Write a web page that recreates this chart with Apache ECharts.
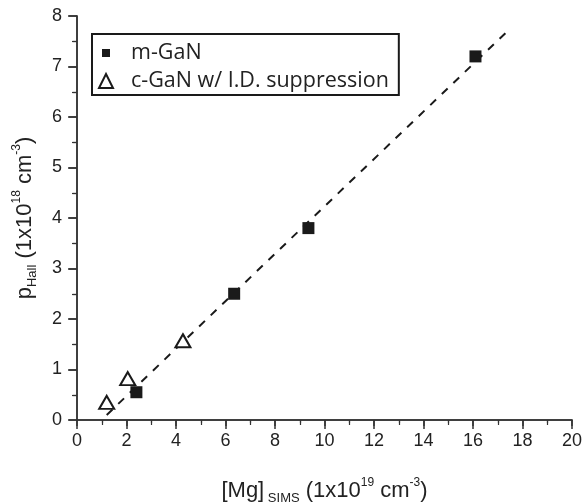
<!DOCTYPE html>
<html>
<head>
<meta charset="utf-8">
<script src="https://cdn.jsdelivr.net/npm/echarts@6/dist/echarts.min.js"></script>
<style>
  html, body { margin: 0; padding: 0; background: #fff; }
  #chart { width: 583px; height: 503px; }
</style>
</head>
<body>
<div id="chart"></div>
<script>
// m-GaN (filled squares)
var mGaNX = [2.4, 6.35, 9.35, 16.1];
var mGaNY = [0.55, 2.5, 3.8, 7.2];
// c-GaN w/ I.D. suppression (open triangles)
var cGaNX = [1.2, 2.05, 4.28];
var cGaNY = [0.35, 0.82, 1.57];
// dashed linear fit, end points
var fitX = [1.2, 17.5];
var fitY = [0.1, 7.75];

var ink = '#1a1a1a';
var axisCol = '#333';
var sans = 'Liberation Sans, Arial, sans-serif';

function pairs(xs, ys) {
  return xs.map(function (x, i) { return [x, ys[i]]; });
}

var nameRich = {
  t: { fontFamily: sans, fontSize: 22, color: '#222' },
  s: { fontFamily: sans, fontSize: 13, color: '#222', padding: [16, 0, 0, 0] },
  p: { fontFamily: sans, fontSize: 12, color: '#222', padding: [0, 0, 15, 0] }
};

var chart = echarts.init(document.getElementById('chart'));

var tickFont = { fontFamily: sans, fontSize: 18, color: '#222' };

chart.setOption({
  animation: false,
  backgroundColor: '#fff',
  grid: { left: 77, right: 11, top: 16, bottom: 83, containLabel: false, outerBoundsMode: 'none' },
  legend: {
    orient: 'vertical',
    left: 92,
    top: 34,
    padding: [7, 10, 2, 6],
    borderColor: ink,
    borderWidth: 2,
    itemGap: 4,
    itemWidth: 14,
    itemHeight: 14,
    data: [
      { name: 'm-GaN', icon: 'path://M0,0 M14,14 M3,3 L11,3 L11,11 L3,11 Z' },
      { name: 'c-GaN w/ I.D. suppression' }
    ],
    textStyle: { fontFamily: 'Open Sans, sans-serif', fontSize: 21.5, lineHeight: 24, color: '#222', padding: [0, 0, 0, 13] }
  },
  xAxis: [{
    type: 'value',
    min: 0, max: 20, interval: 2,
    position: 'bottom',
    splitLine: { show: false },
    axisLine: { lineStyle: { color: axisCol, width: 1.5 } },
    axisTick: { length: 6, lineStyle: { color: axisCol, width: 1.5 } },
    minorTick: { show: true, splitNumber: 2, length: 3, lineStyle: { color: axisCol, width: 1.2 } },
    axisLabel: Object.assign({ margin: 12 }, tickFont),
    name: '{t|[Mg]}{s| SIMS}{t| (1x10}{p|19}{t| cm}{p|-3}{t|)}',
    nameLocation: 'middle',
    nameGap: 56,
    nameTextStyle: { rich: nameRich }
  }, {
    type: 'value',
    min: 0, max: 20, interval: 2,
    position: 'top',
    splitLine: { show: false },
    axisLine: { lineStyle: { color: axisCol, width: 1.5 } },
    axisTick: { inside: true, length: 9, lineStyle: { color: axisCol, width: 1.5 } },
    minorTick: { show: true, splitNumber: 2, length: 5, lineStyle: { color: axisCol, width: 1.2 } },
    axisLabel: { show: false }
  }],
  yAxis: [{
    type: 'value',
    min: 0, max: 8, interval: 1,
    position: 'left',
    splitLine: { show: false },
    axisLine: { lineStyle: { color: axisCol, width: 1.5 } },
    axisTick: { length: 8, lineStyle: { color: axisCol, width: 1.5 } },
    minorTick: { show: true, splitNumber: 2, length: 4, lineStyle: { color: axisCol, width: 1.2 } },
    axisLabel: Object.assign({ margin: 15 }, tickFont),
    name: '{t|p}{s|Hall}{t| (1x10}{p|18}{t| cm}{p|-3}{t|)}',
    nameLocation: 'middle',
    nameRotate: 90,
    nameGap: 38,
    nameTextStyle: { rich: nameRich }
  }, {
    type: 'value',
    min: 0, max: 8, interval: 1,
    position: 'right',
    splitLine: { show: false },
    axisLine: { lineStyle: { color: axisCol, width: 1.5 } },
    axisTick: { inside: true, length: 9, lineStyle: { color: axisCol, width: 1.5 } },
    minorTick: { show: true, splitNumber: 2, length: 5, lineStyle: { color: axisCol, width: 1.2 } },
    axisLabel: { show: false }
  }],
  series: [{
    name: 'fit',
    type: 'line',
    data: pairs(fitX, fitY),
    symbol: 'none',
    silent: true,
    z: 1,
    lineStyle: { color: ink, width: 2, type: [8, 8] }
  }, {
    name: 'm-GaN',
    type: 'scatter',
    data: pairs(mGaNX, mGaNY),
    symbol: 'rect',
    symbolSize: 12,
    z: 3,
    itemStyle: { color: ink, opacity: 1 }
  }, {
    name: 'c-GaN w/ I.D. suppression',
    type: 'scatter',
    data: pairs(cGaNX, cGaNY),
    symbol: 'triangle',
    symbolSize: [15, 13],
    z: 3,
    itemStyle: { color: '#fff', borderColor: ink, borderWidth: 2, opacity: 1 }
  }]
});
</script>
</body>
</html>
